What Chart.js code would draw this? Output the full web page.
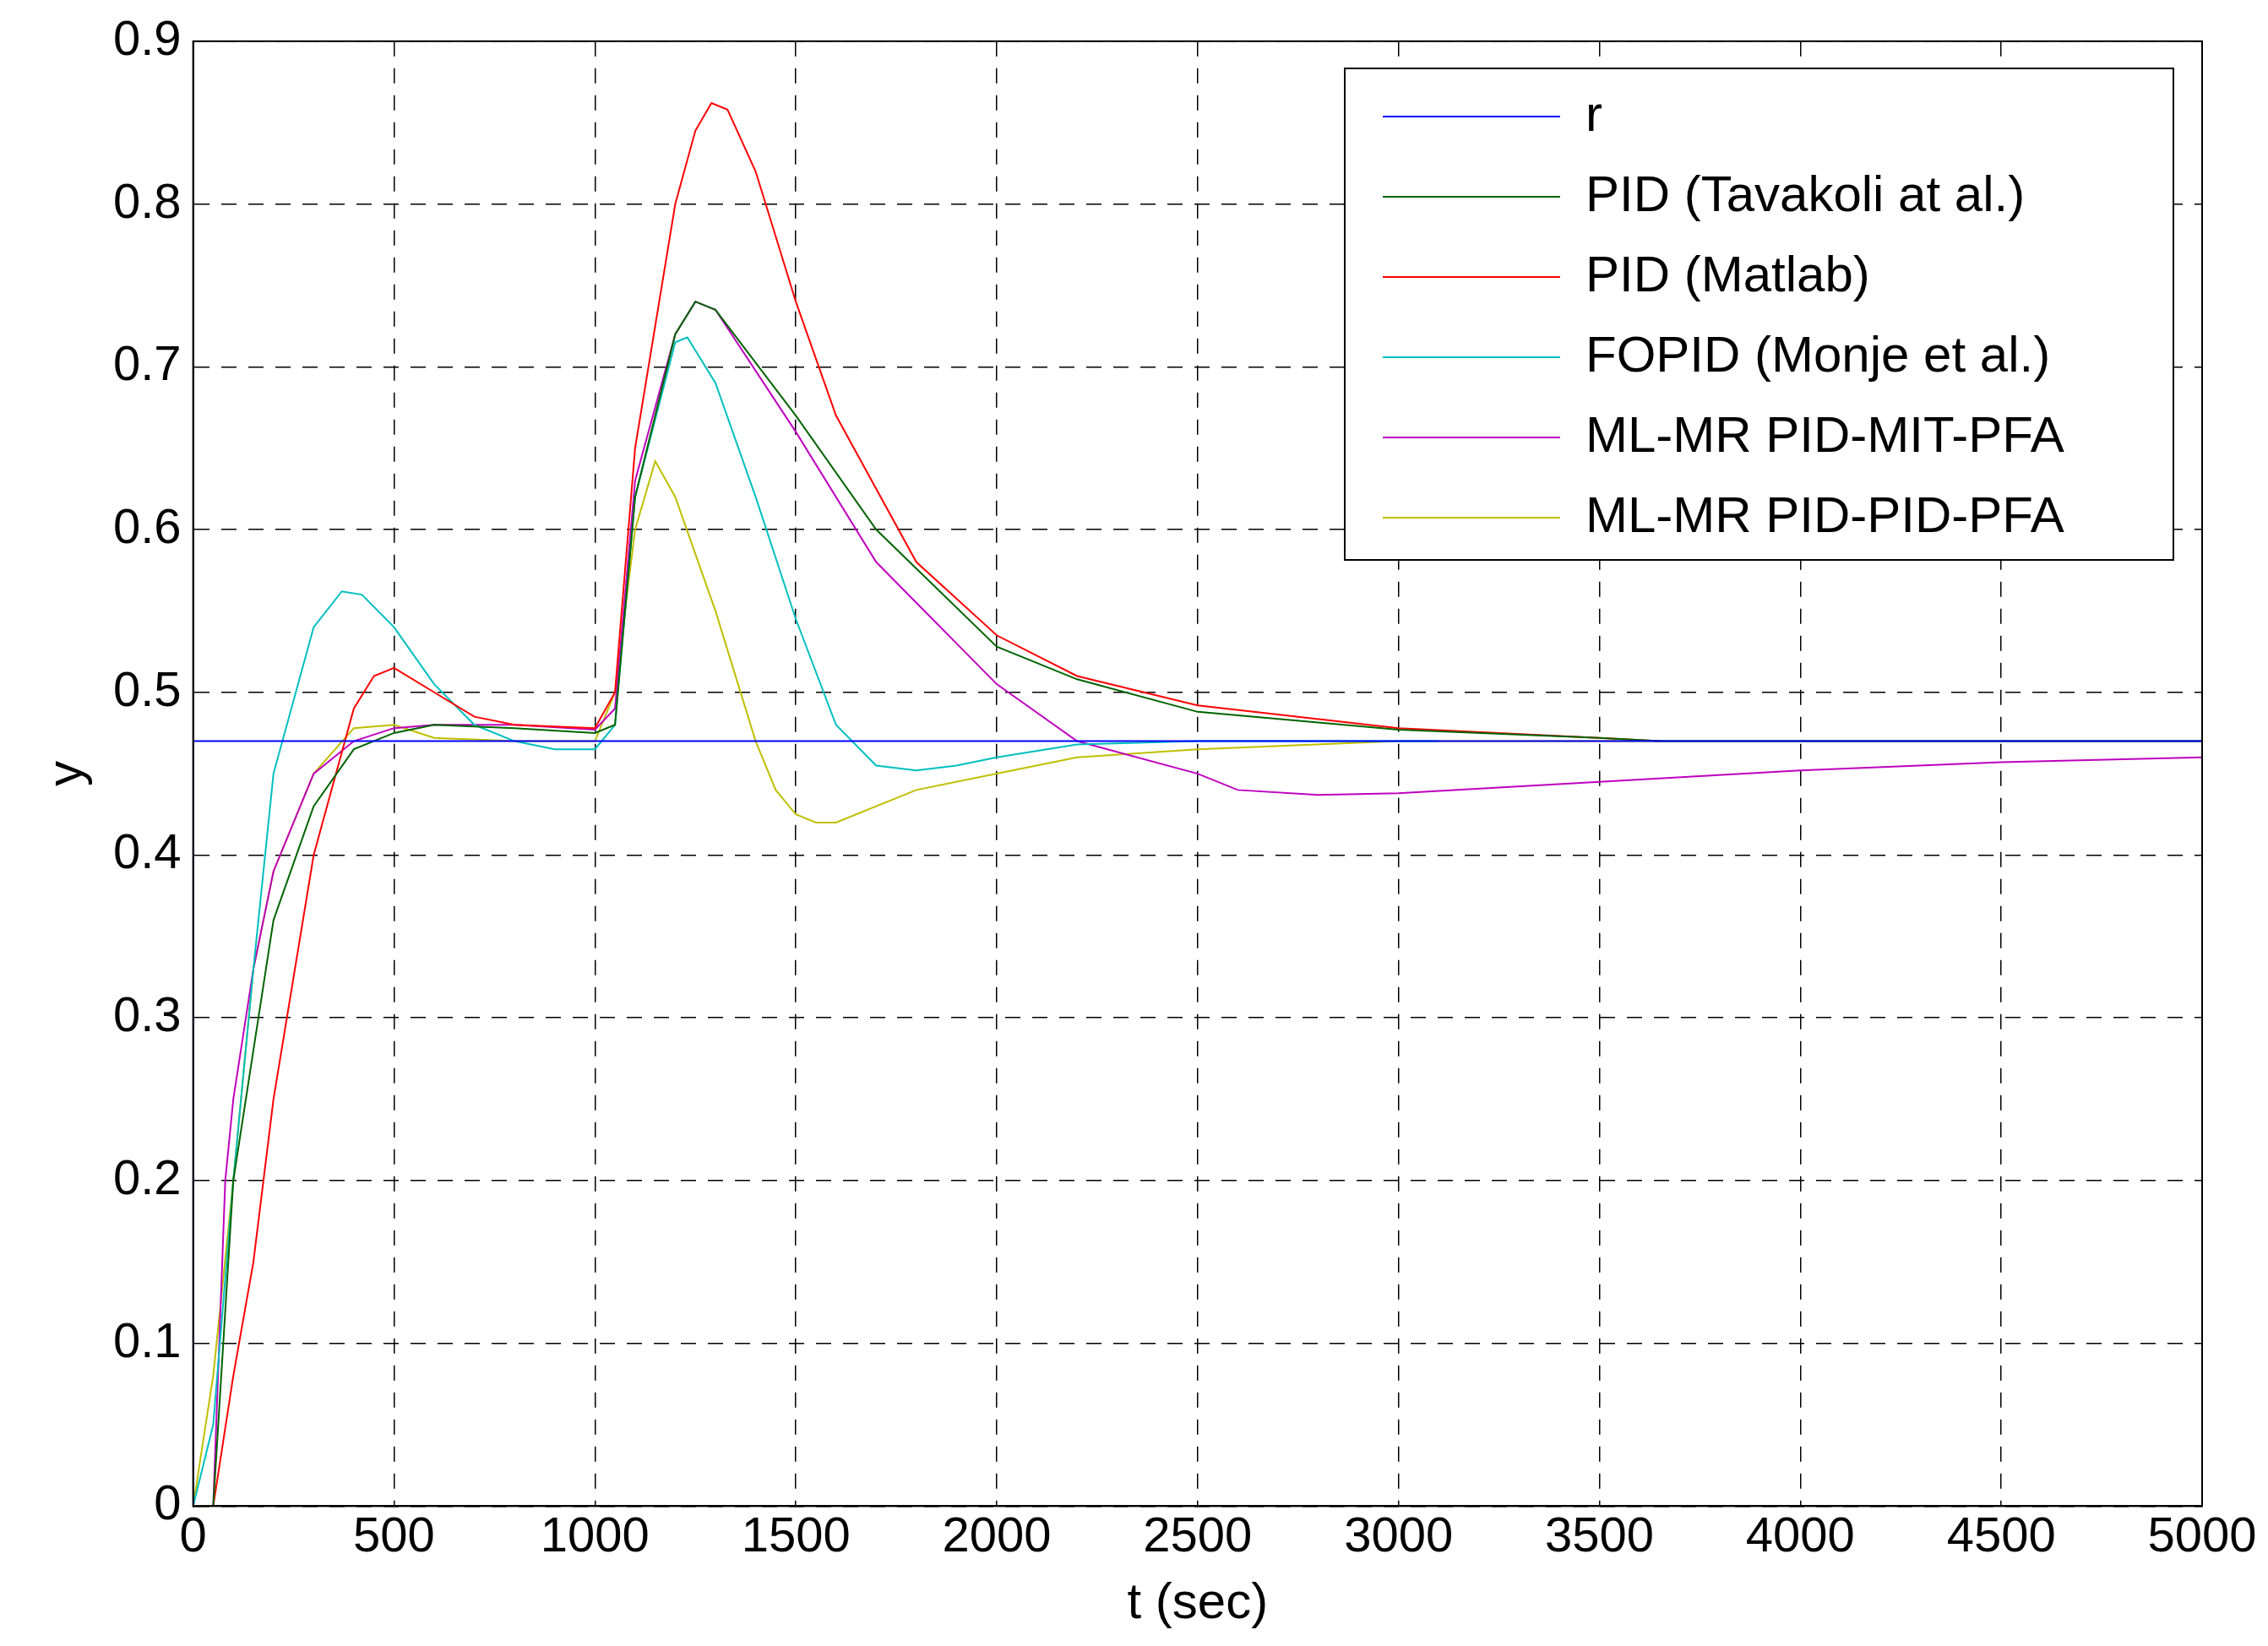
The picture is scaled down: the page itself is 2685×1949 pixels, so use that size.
<!DOCTYPE html>
<html>
<head>
<meta charset="utf-8">
<script src="https://cdn.jsdelivr.net/npm/chart.js@4"></script>
<style>
  body { margin: 0; background: #fff; }
  #wrap { width: 2685px; height: 1949px; }
</style>
</head>
<body>
<div id="wrap"><canvas id="c"></canvas></div>
<script>
// Valori (t in sec, y)
const tRef = [0, 0, 5000];
const yRef = [0, 0.47, 0.47];

const tTav = [0, 50, 100, 200, 300, 400, 500, 600, 800, 1000, 1050, 1100, 1200, 1250, 1300, 1500, 1700, 2000, 2200, 2500, 3000, 3500, 3650, 5000];
const yTav = [0, 0, 0.2, 0.36, 0.43, 0.465, 0.475, 0.48, 0.478, 0.475, 0.48, 0.62, 0.72, 0.74, 0.735, 0.67, 0.6, 0.528, 0.508, 0.488, 0.477, 0.472, 0.47, 0.47];

const tMat = [0, 50, 100, 150, 200, 300, 400, 450, 500, 600, 700, 800, 1000, 1050, 1100, 1200, 1250, 1290, 1330, 1400, 1450, 1500, 1600, 1800, 2000, 2200, 2500, 3000, 3500, 3650];
const yMat = [0, 0, 0.08, 0.15, 0.25, 0.4, 0.49, 0.51, 0.515, 0.5, 0.485, 0.48, 0.478, 0.5, 0.65, 0.8, 0.845, 0.862, 0.858, 0.82, 0.78, 0.74, 0.67, 0.58, 0.535, 0.51, 0.492, 0.478, 0.472, 0.47];

const tMon = [0, 50, 100, 150, 200, 300, 370, 420, 500, 600, 700, 800, 900, 1000, 1050, 1100, 1200, 1230, 1300, 1400, 1500, 1600, 1700, 1800, 1900, 2000, 2200, 2500, 3100];
const yMon = [0, 0.05, 0.2, 0.33, 0.45, 0.54, 0.562, 0.56, 0.54, 0.505, 0.48, 0.47, 0.465, 0.465, 0.48, 0.62, 0.715, 0.718, 0.69, 0.62, 0.545, 0.48, 0.455, 0.452, 0.455, 0.46, 0.468, 0.47, 0.47];

const tMit = [0, 50, 80, 100, 150, 200, 300, 400, 500, 600, 800, 1000, 1050, 1100, 1200, 1250, 1300, 1500, 1700, 2000, 2200, 2500, 2600, 2800, 3000, 3500, 4000, 4500, 5000];
const yMit = [0, 0, 0.2, 0.25, 0.33, 0.39, 0.45, 0.47, 0.478, 0.48, 0.48, 0.477, 0.49, 0.63, 0.72, 0.74, 0.735, 0.66, 0.58, 0.505, 0.47, 0.45, 0.44, 0.437, 0.438, 0.445, 0.452, 0.457, 0.46];

const tPid = [0, 50, 100, 150, 200, 300, 400, 500, 600, 800, 1000, 1050, 1100, 1150, 1200, 1300, 1400, 1450, 1500, 1550, 1600, 1800, 2000, 2200, 2500, 3000, 5000];
const yPid = [0, 0.08, 0.2, 0.33, 0.39, 0.45, 0.478, 0.48, 0.472, 0.47, 0.47, 0.5, 0.6, 0.642, 0.62, 0.55, 0.47, 0.44, 0.425, 0.42, 0.42, 0.44, 0.45, 0.46, 0.465, 0.47, 0.47];

const names = ['r', 'PID (Tavakoli at al.)', 'PID (Matlab)', 'FOPID (Monje et al.)', 'ML-MR PID-MIT-PFA', 'ML-MR PID-PID-PFA'];
const colors = ['#0000ff', '#006400', '#ff0000', '#00bfbf', '#bf00bf', '#bfbf00'];
const series = [[tRef, yRef], [tTav, yTav], [tMat, yMat], [tMon, yMon], [tMit, yMit], [tPid, yPid]];

const FONT = '"Liberation Sans", Arial, sans-serif';

// disegna la legenda dentro il riquadro come in Matlab
const boxLegend = {
  id: 'boxLegend',
  afterDraw(chart) {
    const c = chart.ctx;
    const x0 = 1592, y0 = 81, w = 981, h = 582;
    c.save();
    c.fillStyle = '#fff';
    c.fillRect(x0, y0, w, h);
    c.strokeStyle = '#000';
    c.lineWidth = 2;
    c.strokeRect(x0, y0, w, h);
    c.font = '60px ' + FONT;
    c.textBaseline = 'middle';
    names.forEach((n, i) => {
      const y = y0 + 57 + i * 95;
      c.strokeStyle = colors[i];
      c.lineWidth = 2;
      c.beginPath();
      c.moveTo(x0 + 45, y);
      c.lineTo(x0 + 255, y);
      c.stroke();
      c.fillStyle = '#000';
      c.fillText(n, x0 + 285, y);
    });
    c.restore();
  }
};

new Chart(document.getElementById('c'), {
  type: 'line',
  data: {
    datasets: series.map((s, i) => ({
      label: names[i],
      data: s[0].map((t, k) => ({ x: t, y: s[1][k] })),
      borderColor: colors[i],
      borderWidth: 2,
      pointRadius: 0,
      fill: false,
      tension: 0
    }))
  },
  options: {
    responsive: true,
    maintainAspectRatio: false,
    animation: false,
    layout: { padding: { top: 46, right: 78, left: 40, bottom: 10 } },
    plugins: { legend: { display: false }, tooltip: { enabled: false } },
    scales: {
      x: {
        type: 'linear', min: 0, max: 5000,
        ticks: { stepSize: 500, color: '#000', font: { size: 58, family: FONT }, maxRotation: 0,
          callback: v => String(v) },
        grid: { color: '#000', lineWidth: 1.5, drawTicks: false },
        border: { display: true, color: '#000', width: 2, dash: [18, 14] },
        title: { display: true, text: 't (sec)', color: '#000', font: { size: 60, family: FONT } }
      },
      y: {
        min: 0, max: 0.9,
        ticks: { stepSize: 0.1, color: '#000', font: { size: 58, family: FONT }, padding: 14,
          callback: v => String(Math.round(v * 10) / 10) },
        grid: { color: '#000', lineWidth: 1.5, drawTicks: false },
        border: { display: true, color: '#000', width: 2, dash: [18, 14] },
        title: { display: true, text: 'y', color: '#000', font: { size: 60, family: FONT } }
      }
    }
  },
  plugins: [boxLegend, {
    id: 'frame',
    afterDraw(chart) {
      const a = chart.chartArea, c = chart.ctx;
      c.save();
      c.strokeStyle = '#000';
      c.lineWidth = 2;
      c.strokeRect(a.left, a.top, a.right - a.left, a.bottom - a.top);
      c.restore();
    }
  }]
});
</script>
</body>
</html>
